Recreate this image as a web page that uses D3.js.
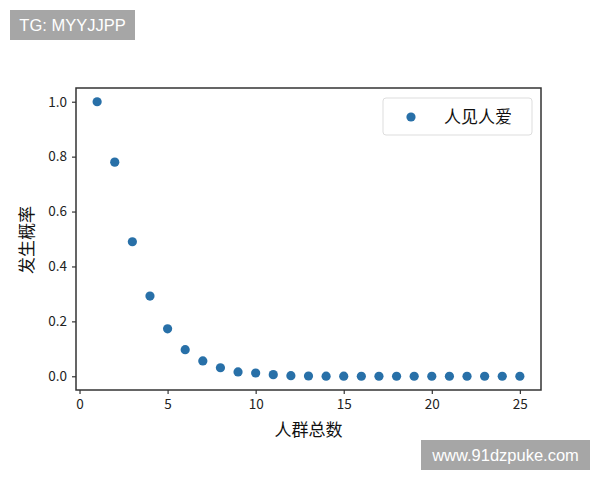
<!DOCTYPE html>
<html><head><meta charset="utf-8">
<script src="https://cdn.jsdelivr.net/npm/d3@7"></script>
<style>body{margin:0;background:#fff}svg{display:block}</style>
</head><body>
<script>
const groupSizes = [1,2,3,4,5,6,7,8,9,10,11,12,13,14,15,16,17,18,19,20,21,22,23,24,25];
const probabilities = [1.0,0.78,0.49,0.292,0.173,0.097,0.056,0.031,0.016,0.012,0.006,0.002,0.001,0.0005,0.0002,0.0001,0,0,0,0,0,0,0,0,0];
const xTicks = [0,5,10,15,20,25];
const yTicks = [0.0,0.2,0.4,0.6,0.8,1.0];
const seriesName = "人见人爱";
const xLabel = "人群总数";
const yLabel = "发生概率";
const watermarks = ["TG: MYYJJPP","www.91dzpuke.com"];

const W=600,H=480;
const L=76,R=541,T=88,B=390;
const font='"Noto Sans CJK SC","DejaVu Sans",sans-serif';
const svg=d3.select("body").append("svg").attr("width",W).attr("height",H);
const x=d3.scaleLinear().domain([-0.2,26.2]).range([L,R]);
const y=d3.scaleLinear().domain([-0.05,1.05]).range([B,T]);

const gx=svg.append("g").attr("transform",`translate(0,${B})`)
  .call(d3.axisBottom(x).tickValues(xTicks).tickSize(4).tickPadding(5).tickFormat(d3.format("d")));
const gy=svg.append("g").attr("transform",`translate(${L},0)`)
  .call(d3.axisLeft(y).tickValues(yTicks).tickSize(4).tickPadding(5).tickFormat(d3.format(".1f")));
[gx,gy].forEach(g=>{
  g.select(".domain").remove();
  g.selectAll("line").attr("stroke","#333").attr("stroke-width",1.2);
  g.selectAll("text").attr("fill","#222").style("font-family",font).style("font-size","13.5px");
});
svg.append("rect").attr("x",L).attr("y",T).attr("width",R-L).attr("height",B-T)
  .attr("fill","none").attr("stroke","#333").attr("stroke-width",1.5);

svg.append("g").selectAll("circle").data(groupSizes).join("circle")
  .attr("cx",d=>x(d)).attr("cy",(d,i)=>y(probabilities[i])).attr("r",4.6)
  .attr("fill","#2870a8");

// legend
const lg=svg.append("g");
lg.append("rect").attr("x",383).attr("y",98).attr("width",149).attr("height",37).attr("rx",3)
  .attr("fill","#fff").attr("stroke","#ddd").attr("stroke-width",1);
lg.append("circle").attr("cx",411).attr("cy",117).attr("r",4.6).attr("fill","#2870a8");
lg.append("text").attr("x",444).attr("y",123).text(seriesName)
  .style("font-family",font).style("font-size","17px").attr("fill","#111");

svg.append("text").attr("x",(L+R)/2).attr("y",436).attr("text-anchor","middle").text(xLabel)
  .style("font-family",font).style("font-size","17px").attr("fill","#111");
svg.append("text").attr("transform","translate(33,240) rotate(-90)").attr("text-anchor","middle").text(yLabel)
  .style("font-family",font).style("font-size","17px").attr("fill","#111");

// watermarks
svg.append("rect").attr("x",10).attr("y",10).attr("width",125).attr("height",30).attr("fill","#a6a6a6");
svg.append("text").attr("x",72.5).attr("y",31).attr("text-anchor","middle").text(watermarks[0])
  .style("font-family","Liberation Sans, Arial, sans-serif").style("font-size","16.5px").attr("fill","#fff");
svg.append("rect").attr("x",421).attr("y",440).attr("width",169).attr("height",30).attr("fill","#a6a6a6");
svg.append("text").attr("x",505.5).attr("y",461).attr("text-anchor","middle").text(watermarks[1])
  .style("font-family","Liberation Sans, Arial, sans-serif").style("font-size","16.5px").attr("fill","#fff");
</script>
</body></html>
